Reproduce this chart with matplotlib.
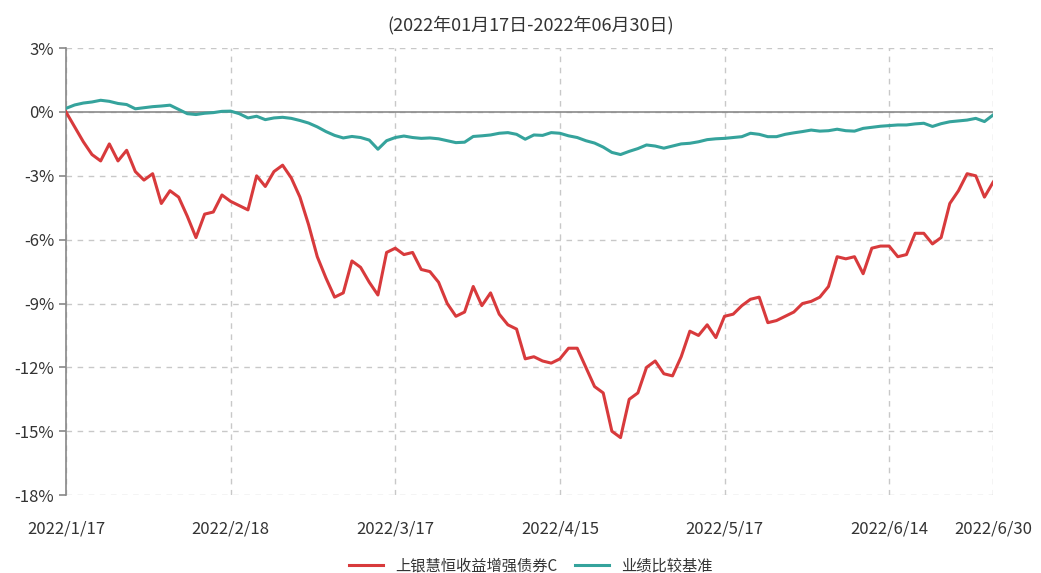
import matplotlib
matplotlib.use("Agg")
import matplotlib.pyplot as plt
from matplotlib.ticker import FuncFormatter

plt.rcParams['font.family'] = ['Noto Sans CJK SC', 'DejaVu Sans']

# trading-day index runs 0..107, labels every 19 days plus the last day
tick_pos = [0, 19, 38, 57, 76, 95, 107]
tick_labels = ["2022/1/17", "2022/2/18", "2022/3/17", "2022/4/15",
               "2022/5/17", "2022/6/14", "2022/6/30"]

fund_name = "上银慧恒收益增强债券C"
bench_name = "业绩比较基准"

fund = [0.0, -0.7, -1.4, -2.0, -2.3, -1.5, -2.3, -1.8, -2.8, -3.2,
        -2.9, -4.3, -3.7, -4.0, -4.9, -5.9, -4.8, -4.7, -3.9, -4.2,
        -4.4, -4.6, -3.0, -3.5, -2.8, -2.5, -3.1, -4.0, -5.3, -6.8,
        -7.8, -8.7, -8.5, -7.0, -7.3, -8.0, -8.6, -6.6, -6.4, -6.7,
        -6.6, -7.4, -7.5, -8.0, -9.0, -9.6, -9.4, -8.2, -9.1, -8.5,
        -9.5, -10.0, -10.2, -11.6, -11.5, -11.7, -11.8, -11.6, -11.1, -11.1,
        -12.0, -12.9, -13.2, -15.0, -15.3, -13.5, -13.2, -12.0, -11.7, -12.3,
        -12.4, -11.5, -10.3, -10.5, -10.0, -10.6, -9.6, -9.5, -9.1, -8.8,
        -8.7, -9.9, -9.8, -9.6, -9.4, -9.0, -8.9, -8.7, -8.2, -6.8,
        -6.9, -6.8, -7.6, -6.4, -6.3, -6.3, -6.8, -6.7, -5.7, -5.7,
        -6.2, -5.9, -4.3, -3.7, -2.9, -3.0, -4.0, -3.3]

bench = [0.17, 0.33, 0.42, 0.47, 0.55, 0.5, 0.4, 0.35, 0.15, 0.2,
         0.25, 0.28, 0.32, 0.12, -0.08, -0.12, -0.06, -0.03, 0.03, 0.04,
         -0.08, -0.28, -0.2, -0.36, -0.28, -0.25, -0.3, -0.4, -0.52, -0.7,
         -0.92, -1.1, -1.22, -1.15, -1.2, -1.32, -1.75, -1.35, -1.2, -1.13,
         -1.2, -1.24, -1.22, -1.26, -1.35, -1.44, -1.42, -1.15, -1.12, -1.08,
         -1.0, -0.97, -1.05, -1.28, -1.08, -1.1, -0.97, -1.0, -1.12, -1.2,
         -1.35, -1.46, -1.65, -1.9, -2.0, -1.85, -1.72, -1.55, -1.6, -1.7,
         -1.6, -1.5, -1.47, -1.4, -1.3, -1.26, -1.24, -1.2, -1.16, -1.0,
         -1.05, -1.16, -1.16, -1.05, -0.98, -0.92, -0.85, -0.9, -0.88, -0.81,
         -0.88, -0.9, -0.77, -0.72, -0.67, -0.64, -0.61, -0.61, -0.56, -0.53,
         -0.68, -0.55, -0.46, -0.42, -0.38, -0.3, -0.45, -0.14]

fig = plt.figure(figsize=(10.41, 5.73), dpi=100)
ax = fig.add_axes([0.0634, 0.136, 0.8906, 0.780])

x = list(range(len(fund)))
ax.plot(x, fund, color="#d83a3c", lw=2.2, label=fund_name, zorder=3)
ax.plot(x, bench, color="#35a39c", lw=2.2, label=bench_name, zorder=3)
ax.axhline(0, color="#8a8a8a", lw=1.2, zorder=2)

ax.set_xlim(0, 107)
ax.set_ylim(-18, 3)
ax.set_yticks(range(-18, 4, 3))
ax.yaxis.set_major_formatter(FuncFormatter(lambda v, p: "%d%%" % v))
ax.set_xticks(tick_pos)
ax.set_xticklabels(tick_labels)

ax.grid(True, color="#c8c8c8", linestyle=(0, (4, 4)), lw=1.0)
for s in ["top", "right", "bottom"]:
    ax.spines[s].set_visible(False)
ax.spines["left"].set_color("#888888")
ax.spines["left"].set_linewidth(1.2)
ax.tick_params(axis="y", colors="#888888", length=5, width=1.2,
               labelcolor="#333333", labelsize=12)
ax.tick_params(axis="x", length=0, pad=18, labelcolor="#333333", labelsize=12)

fig.text(0.51, 0.957, "(2022年01月17日-2022年06月30日)", ha="center", va="center",
         fontsize=13, color="#333333")

fig.legend(loc="center", bbox_to_anchor=(0.51, 0.012), ncol=2, frameon=False,
           fontsize=11, handlelength=2.2, columnspacing=1.2, labelcolor="#333333")

fig.savefig("out.png", dpi=100)
